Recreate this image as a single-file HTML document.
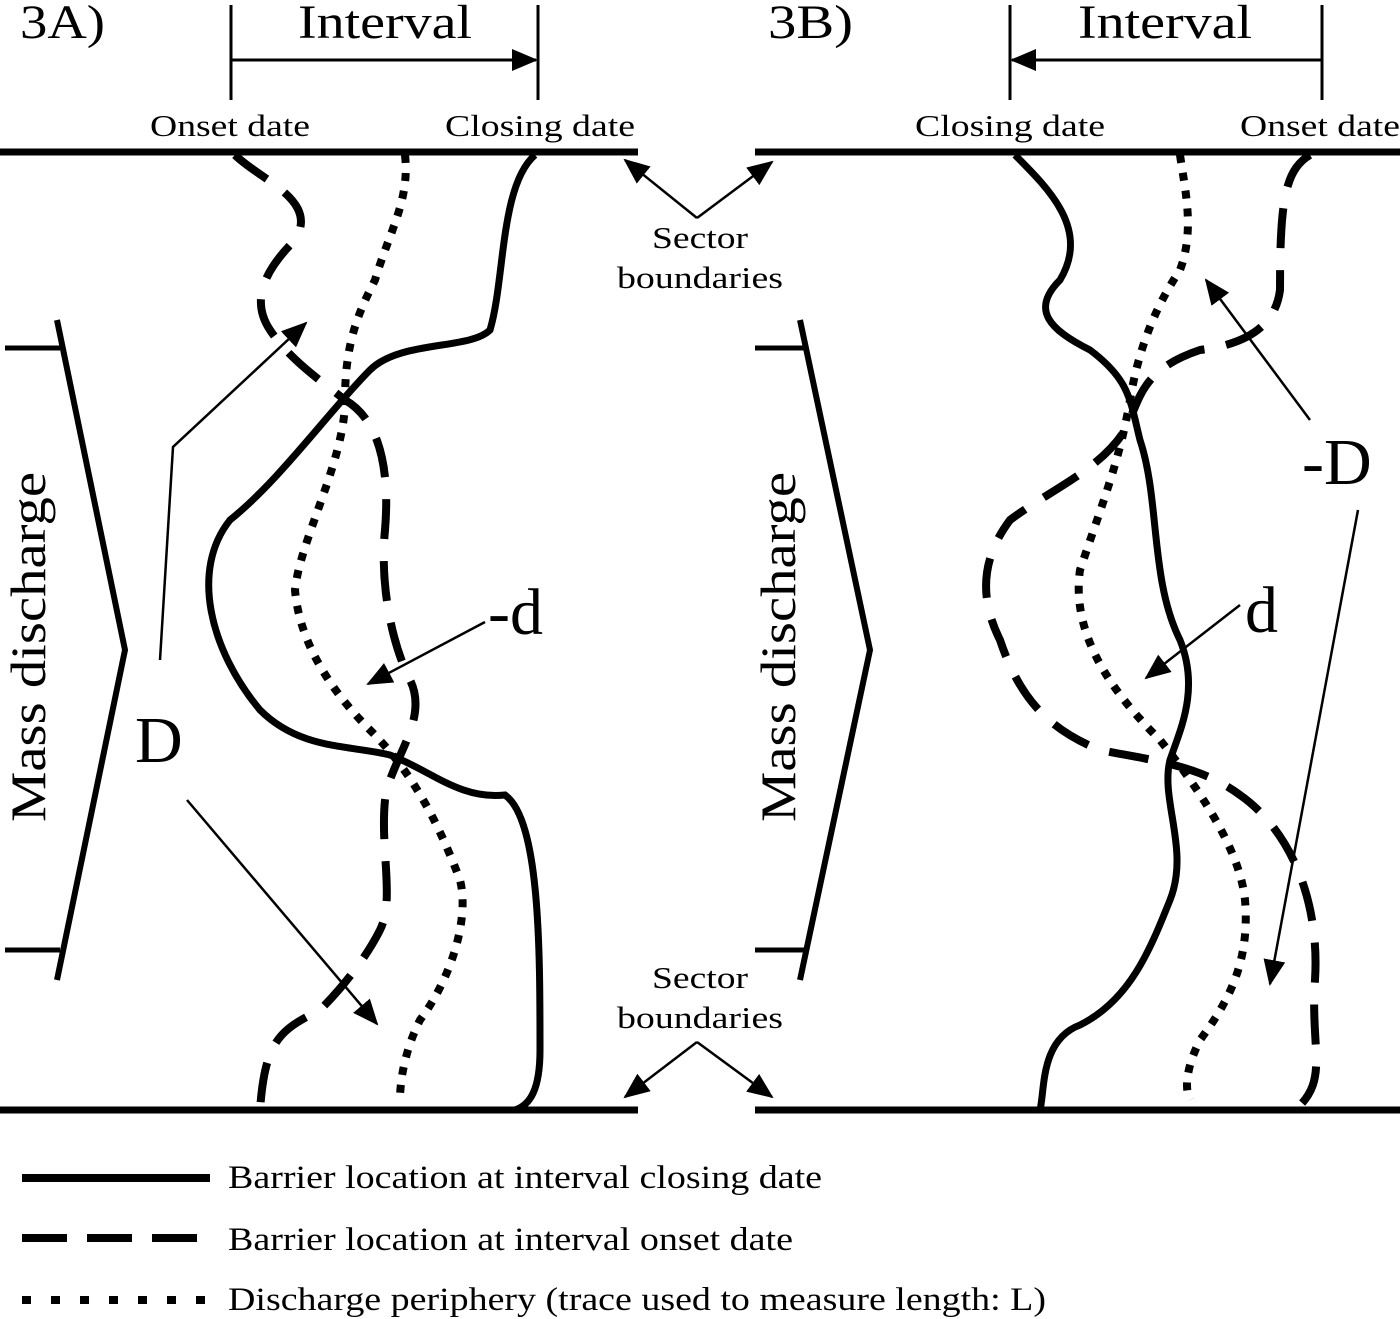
<!DOCTYPE html>
<html><head><meta charset="utf-8"><style>
html,body{margin:0;padding:0;background:#fff}
svg{display:block}
text{font-family:"Liberation Serif",serif;fill:#000}
</style></head><body>
<svg width="1400" height="1319" viewBox="0 0 1400 1319" xmlns="http://www.w3.org/2000/svg">
<defs>
<marker id="ah2" markerWidth="26" markerHeight="22" refX="24" refY="11" orient="auto" markerUnits="userSpaceOnUse" viewBox="0 0 26 22">
<path d="M0,0 L26,11 L0,22 z" fill="#000"/></marker>
</defs>
<g stroke="#000" fill="none">
<line x1="0" y1="152" x2="638" y2="152" stroke-width="7"/>
<line x1="755" y1="152" x2="1400" y2="152" stroke-width="7"/>
<line x1="0" y1="1110" x2="638" y2="1110" stroke-width="7"/>
<line x1="755" y1="1110" x2="1400" y2="1110" stroke-width="7"/>
<line x1="231" y1="5" x2="231" y2="100" stroke-width="3"/>
<line x1="538" y1="5" x2="538" y2="100" stroke-width="3"/>
<line x1="231" y1="60" x2="536" y2="60" stroke-width="3" marker-end="url(#ah2)"/>
<line x1="1010" y1="5" x2="1010" y2="100" stroke-width="3"/>
<line x1="1322" y1="5" x2="1322" y2="100" stroke-width="3"/>
<line x1="1322" y1="60" x2="1012" y2="60" stroke-width="3" marker-end="url(#ah2)"/>
<line x1="5" y1="348" x2="60" y2="348" stroke-width="5"/>
<line x1="5" y1="950" x2="60" y2="950" stroke-width="5"/>
<polyline points="57,320 125,650 57,980" stroke-width="6"/>
<line x1="755" y1="348" x2="805" y2="348" stroke-width="5"/>
<line x1="755" y1="950" x2="805" y2="950" stroke-width="5"/>
<polyline points="800,320 870,650 800,980" stroke-width="6"/>
<path d="M535,155 C500,185 505,280 490,330 C470,350 400,340 370,370 C330,410 280,480 230,520 C190,570 210,650 260,710 C300,750 350,745 390,755 C430,770 460,800 505,795 C540,820 540,950 540,1050 C540,1090 530,1105 515,1110" stroke-width="7"/>
<path d="M235,155 C260,180 320,200 295,240 C265,270 250,300 270,330 C290,360 320,380 345,400 C380,420 390,470 385,530 C380,580 390,640 410,680 C430,720 390,760 385,800 C380,850 395,900 380,930 C365,960 340,990 320,1010 C280,1030 265,1040 260,1110" stroke-width="8" stroke-dasharray="40 22"/>
<path d="M405,155 C410,200 390,230 375,280 C360,310 345,340 345,400 C345,460 300,540 295,590 C300,650 340,700 370,730 C400,760 430,800 460,880 C470,920 450,980 420,1020 C405,1050 400,1080 400,1100" stroke-width="8" stroke-dasharray="8 10"/>
<path d="M1015,155 C1050,190 1090,230 1060,280 C1030,310 1050,330 1090,350 C1130,380 1130,400 1140,440 C1160,500 1150,580 1180,640 C1200,690 1180,730 1170,760 C1160,800 1190,850 1170,900 C1150,950 1130,1000 1080,1025 C1040,1040 1045,1090 1040,1110" stroke-width="7"/>
<path d="M1310,155 C1285,170 1280,200 1280,290 C1275,330 1240,345 1200,350 C1140,370 1140,400 1125,430 C1100,470 1050,490 1010,520 C980,560 980,600 1000,640 C1020,700 1050,730 1100,750 C1150,760 1200,765 1240,795 C1290,830 1320,900 1315,980 C1310,1050 1330,1080 1295,1110" stroke-width="8" stroke-dasharray="40 22"/>
<path d="M1180,155 C1185,190 1195,230 1180,270 C1160,300 1140,340 1130,400 C1120,460 1100,510 1080,570 C1070,640 1120,700 1160,740 C1200,790 1240,850 1245,900 C1250,960 1230,1000 1200,1040 C1185,1070 1185,1090 1190,1100" stroke-width="8" stroke-dasharray="8 10"/>
<polyline points="160,660 173,447 306,323" stroke-width="2.5" marker-end="url(#ah2)"/>
<line x1="187" y1="800" x2="377" y2="1024" stroke-width="2.5" marker-end="url(#ah2)"/>
<line x1="485" y1="622" x2="368" y2="684" stroke-width="2.5" marker-end="url(#ah2)"/>
<line x1="1310" y1="420" x2="1206" y2="280" stroke-width="2.5" marker-end="url(#ah2)"/>
<line x1="1358" y1="510" x2="1270" y2="984" stroke-width="2.5" marker-end="url(#ah2)"/>
<line x1="1240" y1="605" x2="1146" y2="678" stroke-width="2.5" marker-end="url(#ah2)"/>
<line x1="697" y1="218" x2="625" y2="160" stroke-width="2.5" marker-end="url(#ah2)"/>
<line x1="697" y1="218" x2="772" y2="162" stroke-width="2.5" marker-end="url(#ah2)"/>
<line x1="697" y1="1042" x2="625" y2="1097" stroke-width="2.5" marker-end="url(#ah2)"/>
<line x1="697" y1="1042" x2="772" y2="1097" stroke-width="2.5" marker-end="url(#ah2)"/>
<line x1="22" y1="1178" x2="210" y2="1178" stroke-width="8"/>
<line x1="22" y1="1238" x2="210" y2="1238" stroke-width="8" stroke-dasharray="45 20"/>
<line x1="22" y1="1300" x2="210" y2="1300" stroke-width="8" stroke-dasharray="9 20"/>
</g>
<g font-size="48" lengthAdjust="spacingAndGlyphs">
<text x="20" y="38" textLength="85" lengthAdjust="spacingAndGlyphs">3A)</text>
<text x="298" y="38" textLength="174" lengthAdjust="spacingAndGlyphs">Interval</text>
<text x="768" y="38" textLength="85" lengthAdjust="spacingAndGlyphs">3B)</text>
<text x="1078" y="38" textLength="174" lengthAdjust="spacingAndGlyphs">Interval</text>
</g>
<g font-size="31">
<text x="150" y="136" textLength="160" lengthAdjust="spacingAndGlyphs">Onset date</text>
<text x="445" y="136" textLength="190" lengthAdjust="spacingAndGlyphs">Closing date</text>
<text x="915" y="136" textLength="190" lengthAdjust="spacingAndGlyphs">Closing date</text>
<text x="1240" y="136" textLength="160" lengthAdjust="spacingAndGlyphs">Onset date</text>
<text x="652" y="248" textLength="96" lengthAdjust="spacingAndGlyphs">Sector</text>
<text x="617" y="288" textLength="166" lengthAdjust="spacingAndGlyphs">boundaries</text>
<text x="652" y="988" textLength="96" lengthAdjust="spacingAndGlyphs">Sector</text>
<text x="617" y="1028" textLength="166" lengthAdjust="spacingAndGlyphs">boundaries</text>
</g>
<g font-size="50">
<text transform="translate(45,822) rotate(-90)" textLength="350" lengthAdjust="spacingAndGlyphs">Mass discharge</text>
<text transform="translate(795,822) rotate(-90)" textLength="350" lengthAdjust="spacingAndGlyphs">Mass discharge</text>
</g>
<g font-size="66">
<text x="135" y="762">D</text>
<text x="488" y="634">-d</text>
<text x="1245" y="632">d</text>
<text x="1302" y="484">-D</text>
</g>
<g font-size="33">
<text x="228" y="1188" textLength="594" lengthAdjust="spacingAndGlyphs">Barrier location at interval closing date</text>
<text x="228" y="1250" textLength="565" lengthAdjust="spacingAndGlyphs">Barrier location at interval onset date</text>
<text x="228" y="1310" textLength="818" lengthAdjust="spacingAndGlyphs">Discharge periphery (trace used to measure length: L)</text>
</g>
</svg>
</body></html>
